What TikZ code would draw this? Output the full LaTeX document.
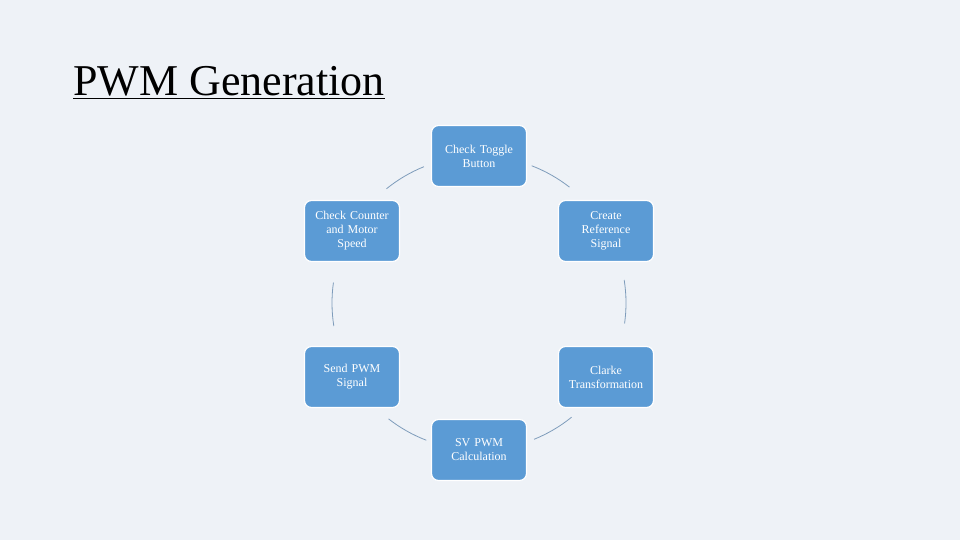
\documentclass[tikz,border=0pt]{standalone}
\usepackage{fontspec}
\setmainfont{Liberation Serif}
\begin{document}
\begin{tikzpicture}[x=1pt,y=-1pt,
  box/.style={draw=white,line width=1.2pt,fill=boxblue,rounded corners=7pt,minimum width=95pt,minimum height=61pt,text width=88pt,align=center,text=white,font=\fontsize{12}{14}\selectfont},
  link/.style={draw=linkc,line width=0.8pt}]
\definecolor{boxblue}{HTML}{5B9BD5}
\definecolor{linkc}{HTML}{7E9CBB}
\definecolor{bg}{HTML}{EEF2F7}
\fill[bg] (0,0) rectangle (960,540);
\useasboundingbox (0,0) rectangle (960,540);
\node[anchor=base west,font=\fontsize{44}{50}\selectfont,inner sep=0pt] (title) at (73,96) {\underline{PWM Generation}};
\coordinate (c) at (479,303);
\node[box] (t) at (479,156) {Check Toggle\\Button};
\node[box] (r1) at (606,231) {Create\\Reference\\Signal};
\node[box] (r2) at (606,377) {Clarke\\Transformation};
\node[box] (b) at (479,450) {SV PWM\\Calculation};
\node[box] (l2) at (352,377) {Send PWM\\Signal};
\node[box] (l1) at (352,231) {Check Counter\\and Motor\\Speed};
\foreach \a in {51,111,171,231,291,351}
  \draw[link] ([shift={(\a:147)}]c) arc[start angle=\a,end angle=\a+17,radius=147];
\end{tikzpicture}
\end{document}
